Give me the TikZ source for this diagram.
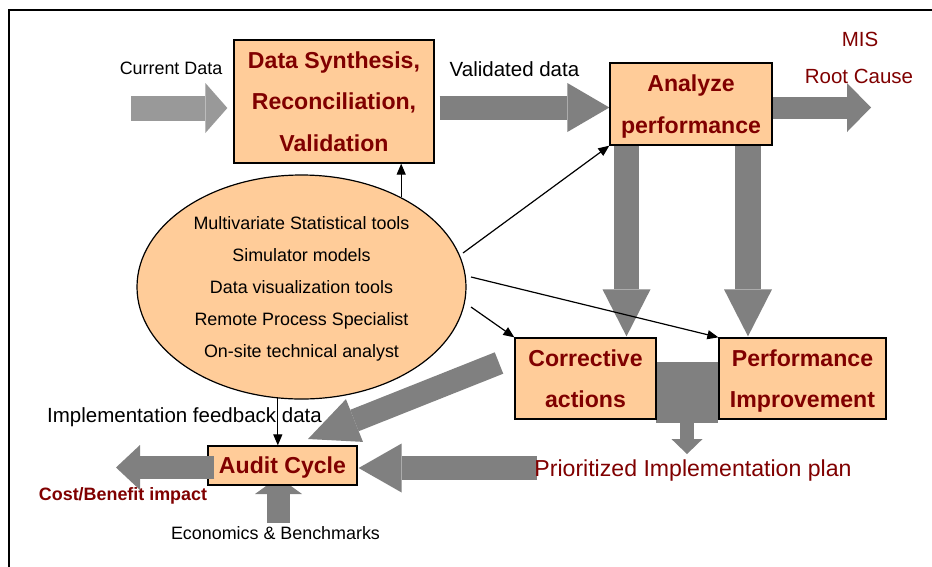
\documentclass[tikz,border=0pt]{standalone}
\usepackage{fontspec}
\setmainfont{Liberation Sans}
\usetikzlibrary{arrows.meta,shapes.geometric}
\pgfdeclarelayer{bg}
\pgfsetlayers{bg,main}
\definecolor{boxfill}{HTML}{FFCC99}
\definecolor{darkred}{HTML}{800000}
\definecolor{flowgray}{HTML}{808080}
\definecolor{inputgray}{HTML}{999999}

\begin{document}
\begin{tikzpicture}[x=1pt,y=-1pt,
  box/.style={draw=black, line width=1.3pt, fill=boxfill, inner sep=0pt,
    text=darkred, align=center, font=\bfseries\fontsize{23.1}{41.5}\selectfont},
  lab/.style={inner sep=0pt, anchor=base},
  fs/.style={font=\fontsize{17.9}{21}\selectfont},
  fm/.style={font=\fontsize{20.5}{24}\selectfont},
  fl/.style={font=\fontsize{23.1}{27}\selectfont},
  fat/.style n args={4}{draw=#4, line width=#1,
    -{Triangle[length=#2 0 0, width=#3 0 0, line width=0pt 0 0, fill=#4]}},
  link/.style={draw=black, line width=1.2pt, -{Triangle[length=11pt, width=9pt]}}
]
\useasboundingbox (0,0) rectangle (932,566);
\draw[line width=1.6pt] (933,10) -- (9,10) -- (9,567);

% process boxes
\node[box, minimum width=200pt, minimum height=123pt] (ds) at (334,101.5)
  {Data Synthesis,\\Reconciliation,\\Validation};
\node[box, minimum width=162pt, minimum height=82pt] (ap) at (691,104)
  {Analyze\\\smash{performance}};
\node[box, minimum width=141pt, minimum height=81pt] (ca) at (585.5,378.5)
  {Corrective\\actions};
\node[box, minimum width=167pt, minimum height=81pt] (pi) at (802.5,378.5)
  {Performance\\\smash{Improvement}};
\node[box, minimum width=149pt, minimum height=39pt, text depth=0pt] (ac) at (282.5,465.5)
  {Audit Cycle};

% tools ellipse
\node[ellipse, draw=black, line width=1.2pt, fill=boxfill, minimum width=329pt,
  minimum height=224pt, inner sep=0pt, align=center,
  font=\fontsize{17.9}{32.2}\selectfont] (ell) at (301.5,287)
  {Multivariate Statistical tools\\Simulator models\\Data visualization tools\\
   Remote Process Specialist\\\smash{On-site technical analyst}};

% labels
\node[lab, fs] (cur) at (171,74) {Current Data};
\node[lab, fm] (val) at (514.5,76.7) {Validated data};
\node[lab, fm, text=darkred] (mis) at (860,46.5) {MIS};
\node[lab, fm, text=darkred] (rc) at (859,83) {Root Cause};
\node[lab, fm] (fbk) at (184.5,422.7) {Implementation feedback data};
\node[lab, text=darkred, font=\bfseries\fontsize{17.9}{21}\selectfont] (cb) at (123,500)
  {Cost/Benefit impact};
\node[lab, fs] (eco) at (275.5,539.3) {Economics \& Benchmarks};
\node[lab, fl, text=darkred] (plan) at (693,476) {Prioritized Implementation plan};

% helper coordinates
\coordinate (cd0) at (131,108);
\coordinate (r1) at (0,107.5);
\coordinate (misend) at (871,107.5);
\coordinate (c1) at (626.5,0);
\coordinate (c2) at (748,0);
\coordinate (dg0) at (499,363);
\coordinate (dg1) at (308,439);
\coordinate (r3) at (0,468);
\coordinate (r4) at (0,467.5);
\coordinate (cbend) at (116,467.5);
\coordinate (ec0) at (278.5,523);
\coordinate (ec1) at (278.5,477);

% wide flow arrows beneath the boxes
\begin{pgfonlayer}{bg}
  \fill[white] (0,0) rectangle (932,566);
  \node[fill=flowgray, minimum width=62pt, minimum height=61pt, inner sep=0pt] (mrg) at (687,392.5) {};
  \draw[fat={25pt}{22pt}{50pt}{inputgray}, shorten >=6pt] (cd0) -- (ds.west |- cd0);
  \draw[fat={24pt}{42pt}{49pt}{flowgray}, shorten <=5pt] (ds.east |- r1) -- (ap.west |- r1);
  \draw[fat={22pt}{24pt}{49pt}{flowgray}] (ap.east |- r1) -- (misend);
  \draw[fat={25pt}{47pt}{48pt}{flowgray}, shorten >=1pt] (ap.south -| c1) -- (ca.north -| c1);
  \draw[fat={26pt}{47pt}{48pt}{flowgray}, shorten >=1pt] (ap.south -| c2) -- (pi.north -| c2);
  \draw[fat={23pt}{50pt}{46pt}{flowgray}] (dg0) -- (dg1);
  \draw[fat={24pt}{43pt}{49pt}{flowgray}, shorten <=-3pt, shorten >=1pt] (plan.west |- r3) -- (ac.east |- r3);
  \draw[fat={23pt}{17pt}{47pt}{flowgray}] (ec0) -- (ec1);
  \draw[fat={14pt}{15pt}{31pt}{flowgray}, shorten >=5pt] (mrg.south) -- (mrg.south |- plan.north);
\end{pgfonlayer}

% outgoing impact arrow over the audit box
\draw[fat={23pt}{24pt}{45pt}{flowgray}, shorten <=-7pt] (ac.west |- r4) -- (cbend);

% thin links from the tools
\coordinate (l2) at (463,253);
\coordinate (l3) at (471,277);
\coordinate (l4) at (471,307);
\draw[link] (ell.42) -- (ell.42 |- ds.south);
\draw[link] (l2) -- (ap.south west);
\draw[link] (l3) -- (pi.north west);
\draw[link] (l4) -- (ca.north west);
\draw[link] (ell.258) -- (ell.258 |- ac.north);
\end{tikzpicture}
\end{document}
